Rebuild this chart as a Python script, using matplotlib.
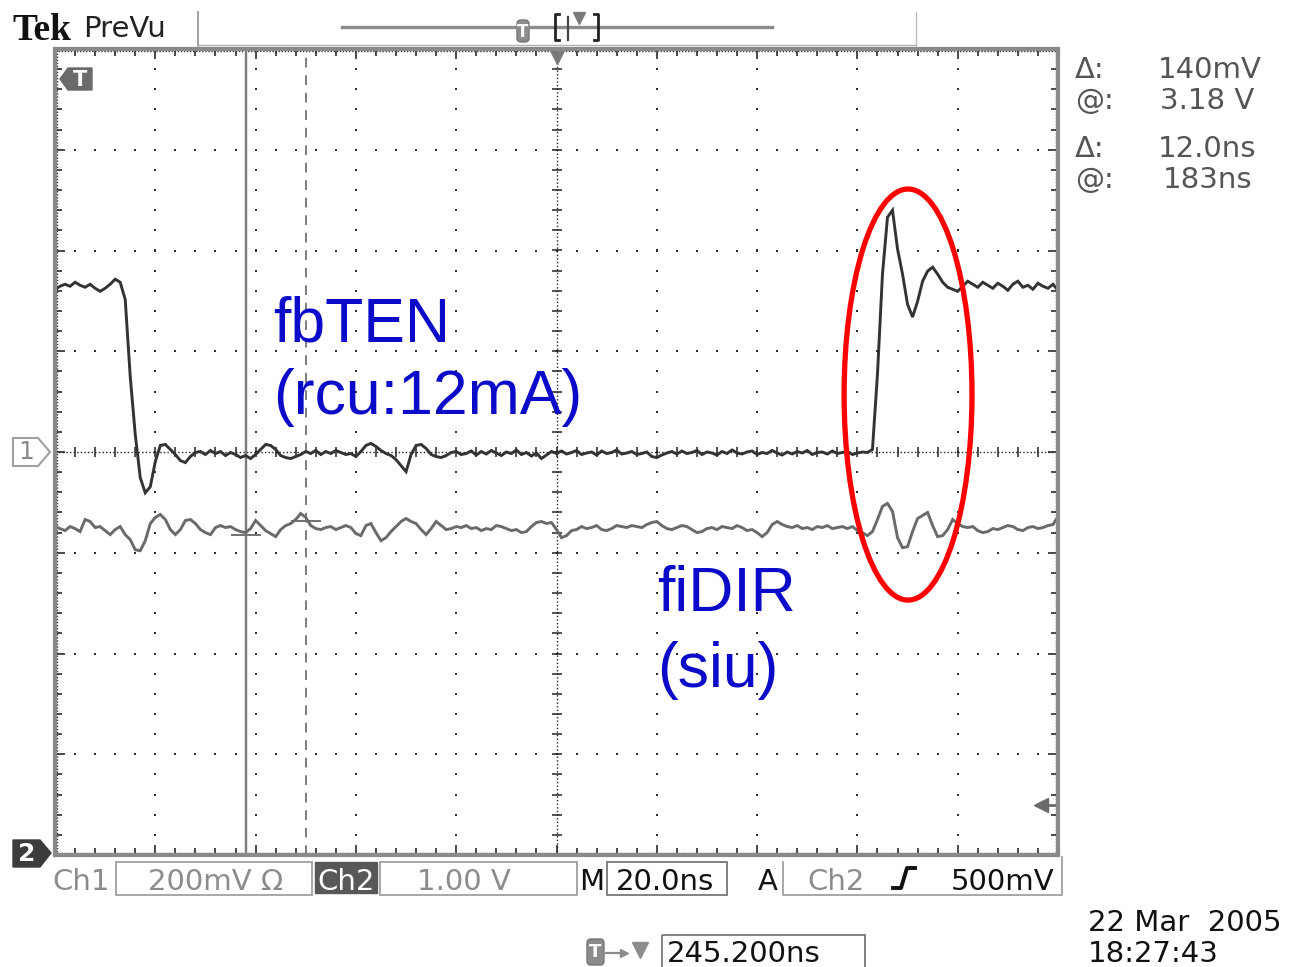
import numpy as np
import matplotlib
matplotlib.use("Agg")
import matplotlib.pyplot as plt
from matplotlib.patches import Ellipse, Polygon, Rectangle, FancyBboxPatch

plt.rcParams['font.family'] = ['DejaVu Sans']

W, H = 1296, 967

# Screen time base: 20 ns/div over 10 divisions, one sample per ns
time_ns = np.arange(0, 201)

# Channel 1 (fbTEN), mV
ch1_mv = [
    323, 329, 333, 329, 337, 331, 327, 333, 325, 319,
    325, 333, 343, 337, 303, 150, 35, -51, -81, -69,
    -19, 13, 15, 5, -5, -17, -21, -9, -1, 1,
    -5, 3, -3, 1, -7, -1, -5, -11, -7, -13,
    -5, 5, 15, 13, 5, -7, -11, -13, -9, -5,
    1, -3, 3, -5, 1, -3, 3, -1, -5, -3,
    -9, 1, 13, 17, 11, 3, -3, -7, -15, -27,
    -39, -5, 13, 15, 7, -5, -9, -11, -7, -1,
    1, -5, -3, 2, -6, 1, -4, 3, -2, -7,
    0, -3, 4, -5, -1, -8, -2, -13, -6, 1,
    -3, 2, -4, -1, 3, -5, -2, 0, -6, 2,
    -3, -1, 4, -4, -2, 1, -5, -3, 0, -9,
    -11, -6, -2, 1, -4, 2, -3, -1, 3, -5,
    0, -2, -6, 1, -3, 4, -2, -4, 0, 2,
    -5, -1, -3, 3, -2, -6, 0, -4, 1, -2,
    3, -5, -1, 0, -4, 2, -3, -1, 1, -5,
    -2, 0, -1, 5, 154, 353, 466, 480, 403, 353,
    293, 268, 299, 339, 359, 367, 353, 337, 327, 323,
    319, 329, 339, 333, 327, 337, 331, 325, 335, 329,
    321, 333, 339, 327, 331, 323, 335, 329, 325, 333,
    321,
]

# Channel 2 (fiDIR), V
ch2_v = [
    3.26, 3.24, 3.22, 3.26, 3.24, 3.21, 3.33, 3.31, 3.25, 3.26,
    3.22, 3.18, 3.23, 3.26, 3.18, 3.13, 3.03, 3.02, 3.12, 3.29,
    3.35, 3.38, 3.33, 3.23, 3.18, 3.23, 3.32, 3.33, 3.29, 3.23,
    3.20, 3.18, 3.25, 3.27, 3.25, 3.26, 3.23, 3.21, 3.20, 3.24,
    3.32, 3.27, 3.22, 3.19, 3.16, 3.23, 3.27, 3.29, 3.33, 3.39,
    3.35, 3.27, 3.24, 3.23, 3.25, 3.26, 3.23, 3.25, 3.27, 3.25,
    3.19, 3.17, 3.27, 3.29, 3.20, 3.12, 3.15, 3.21, 3.26, 3.31,
    3.34, 3.31, 3.29, 3.23, 3.18, 3.24, 3.31, 3.27, 3.23, 3.24,
    3.26, 3.25, 3.27, 3.24, 3.25, 3.22, 3.24, 3.23, 3.27, 3.26,
    3.24, 3.22, 3.23, 3.20, 3.21, 3.26, 3.30, 3.31, 3.29, 3.30,
    3.23, 3.15, 3.17, 3.22, 3.23, 3.26, 3.24, 3.25, 3.27, 3.23,
    3.22, 3.24, 3.27, 3.26, 3.25, 3.27, 3.26, 3.25, 3.28, 3.30,
    3.31, 3.27, 3.24, 3.23, 3.25, 3.27, 3.26, 3.23, 3.20, 3.21,
    3.24, 3.25, 3.23, 3.26, 3.25, 3.24, 3.27, 3.25, 3.22, 3.23,
    3.20, 3.16, 3.20, 3.28, 3.31, 3.28, 3.26, 3.25, 3.27, 3.24,
    3.25, 3.23, 3.26, 3.25, 3.27, 3.24, 3.25, 3.26, 3.24, 3.26,
    3.22, 3.20, 3.17, 3.21, 3.33, 3.46, 3.49, 3.41, 3.15, 3.05,
    3.06, 3.21, 3.34, 3.37, 3.40, 3.27, 3.16, 3.17, 3.23, 3.33,
    3.29, 3.26, 3.25, 3.26, 3.22, 3.20, 3.21, 3.24, 3.23, 3.25,
    3.27, 3.26, 3.23, 3.22, 3.25, 3.26, 3.24, 3.25, 3.27, 3.28,
    3.36,
]

# Vertical settings
ch1_mv_per_div = 200.0
ch2_v_per_div = 1.0
ch1_ground_div = 0.0
ch2_ground_div = -4.0

# Cursors (time cursors in ns from screen left, voltage cursors on Ch2)
cursor_t = [38.0, 50.0]
cursor_v = [3.18, 3.32]
trigger_level_v = 0.5

# Readouts and labels
readouts = [("Δ:", "140mV"), ("@:", "3.18 V"), ("Δ:", "12.0ns"), ("@:", "183ns")]
date_lines = ["22 Mar  2005", "18:27:43"]

fig = plt.figure(figsize=(W / 100, H / 100), dpi=100)
fig.patch.set_facecolor('white')

# ---------------- graticule + traces ----------------
L, R, T, B = 55, 1058, 49, 855
ax = fig.add_axes([L / W, 1 - B / H, (R - L) / W, (B - T) / H])
ax.set_xlim(0, 200)
ax.set_ylim(-4, 4)
ax.set_facecolor('white')

dot_c = '#2e2e2e'
ys_fine = np.arange(-4, 4.001, 0.2)
xs_fine = np.arange(0, 200.001, 4)
for k in range(1, 10):
    if k == 5:
        continue
    ax.plot(np.full_like(ys_fine, k * 20.0), ys_fine, ls='none', marker='s',
            ms=1.7, mew=0, color=dot_c)
for j in range(-3, 4):
    if j == 0:
        continue
    ax.plot(xs_fine, np.full_like(xs_fine, float(j)), ls='none', marker='s',
            ms=1.7, mew=0, color=dot_c)

# centre crosshair with minor ticks
ax.plot([0, 200], [0, 0], color='#222', lw=1.0, ls=(0, (1, 1.6)))
ax.plot([100, 100], [-4, 4], color='#222', lw=1.0, ls=(0, (1, 1.6)))
ax.plot(xs_fine, np.zeros_like(xs_fine), ls='none', marker='|', ms=7, mew=1.1, color='#222')
ax.plot(np.full_like(ys_fine, 100.0), ys_fine, ls='none', marker='_', ms=7, mew=1.1, color='#222')

# frame
for s in ax.spines.values():
    s.set_color('#8a8a8a')
    s.set_linewidth(3.0)
ax.set_xticks(np.arange(0, 201, 20))
ax.set_xticks(np.arange(0, 201, 4), minor=True)
ax.set_yticks(np.arange(-4, 4.01, 1))
ax.set_yticks(ys_fine, minor=True)
ax.tick_params(which='both', direction='in', top=True, right=True,
               labelbottom=False, labelleft=False, color='#2a2a2a', width=1.2)
ax.tick_params(which='major', length=7)
ax.tick_params(which='minor', length=5)
ax.plot([0.4, 0.4], [-4, 4], color='#333', lw=1.0, ls=(0, (1, 1.2)))
ax.plot([199.6, 199.6], [-4, 4], color='#333', lw=1.0, ls=(0, (1, 1.2)))
ax.plot([0, 200], [3.985, 3.985], color='#333', lw=1.0, ls=(0, (1, 1.2)))
ax.plot([0, 200], [-3.985, -3.985], color='#333', lw=1.0, ls=(0, (1, 1.2)))

# cursors
ax.axvline(cursor_t[0], color='#7c7c7c', lw=1.7)
ax.axvline(cursor_t[1], color='#7c7c7c', lw=1.4, ls=(0, (5, 4)))
for t, v in zip(cursor_t, cursor_v):
    yv = v / ch2_v_per_div + ch2_ground_div
    ax.plot([t - 2.8, t + 2.8], [yv, yv], color='#707070', lw=1.4)

# traces
ch1_div = np.array(ch1_mv) / ch1_mv_per_div + ch1_ground_div
ch2_div = np.array(ch2_v) / ch2_v_per_div + ch2_ground_div
ax.plot(time_ns, ch2_div, color='#6a6a6a', lw=2.1, solid_joinstyle='miter')
ax.plot(time_ns, ch1_div, color='#333333', lw=2.1, solid_joinstyle='miter')

# trigger position and trigger level markers
ax.plot([100], [3.93], marker='v', ms=11, color='#7a7a7a', clip_on=False)
trig_div = trigger_level_v / ch2_v_per_div + ch2_ground_div
ax.plot([197.2, 200], [trig_div, trig_div], color='#6a6a6a', lw=2)
ax.plot([196.7], [trig_div], marker='<', ms=10, color='#6a6a6a')

# highlighted region
ax.add_patch(Ellipse((170.1, 0.57), 25.5, 4.08, fill=False, ec='#ff0000',
                     lw=3.8, clip_on=False, zorder=5))

# ---------------- overlay in screen pixels ----------------
ov = fig.add_axes([0, 0, 1, 1])
ov.set_xlim(0, W)
ov.set_ylim(H, 0)
ov.axis('off')
ov.patch.set_alpha(0)

# top bar
ov.text(12, 40, 'Tek', family='Liberation Serif', weight='bold', fontsize=27,
        va='baseline', ha='left', color='#111')
ov.text(83, 37, 'PreVu', fontsize=21, va='baseline', ha='left', color='#222')
ov.plot([198, 198], [12, 46], color='#9a9a9a', lw=1.3)
ov.plot([916, 916], [12, 46], color='#bdbdbd', lw=1.0)
ov.plot([198, 916], [45, 45], color='#b0b0b0', lw=1.0)
ov.plot([342, 772], [27, 27], color='#8a8a8a', lw=2.4)
ov.add_patch(FancyBboxPatch((517, 20), 12, 22, boxstyle='round,pad=0,rounding_size=4',
                            fc='#8c8c8c', ec='#777', lw=1))
ov.text(523, 32, 'T', color='white', fontsize=12, weight='bold', ha='center', va='center')
ov.plot([559, 555, 555, 559], [14, 14, 40, 40], color='#222', lw=2)
ov.plot([594, 598, 598, 594], [14, 14, 40, 40], color='#222', lw=2)
ov.plot([568, 568], [17, 40], color='#444', lw=1.6)
ov.plot([579], [18], marker='v', ms=8, color='#7a7a7a')

# left channel markers
ov.add_patch(Polygon([(13, 438), (38, 438), (50, 452), (38, 466), (13, 466)],
                     closed=True, fill=False, ec='#a0a0a0', lw=1.5))
ov.text(26, 452, '1', color='#8a8a8a', fontsize=18, ha='center', va='center')
ov.add_patch(Polygon([(13, 840), (40, 840), (51, 853), (40, 867), (13, 867)],
                     closed=True, fc='#3c3c3c', ec='#3c3c3c'))
ov.text(27, 854, '2', color='white', fontsize=18, weight='bold', ha='center', va='center')

# trigger tag in the upper-left of the screen
ov.add_patch(Polygon([(60, 79), (68, 68), (92, 68), (92, 90), (68, 90)],
                     closed=True, fc='#6a6a6a', ec='#6a6a6a'))
ov.text(80, 80, 'T', color='white', fontsize=15, weight='bold', ha='center', va='center')

# channel annotations
blue = '#0a0ac8'
ov.text(273, 342, 'fbTEN', family='Liberation Sans', fontsize=45, color=blue, va='baseline')
ov.text(273, 414, '(rcu:12mA)', family='Liberation Sans', fontsize=45, color=blue, va='baseline')
ov.text(657, 611, 'fiDIR', family='Liberation Sans', fontsize=45, color=blue, va='baseline')
ov.text(657, 687, '(siu)', family='Liberation Sans', fontsize=45, color=blue, va='baseline')

# cursor readouts
ro_y = [78, 109, 157, 188]
ro_x = [1158, 1160, 1158, 1163]
for (lab, val), y, x in zip(readouts, ro_y, ro_x):
    ov.text(1075, y, lab, fontsize=21, color='#555', va='baseline')
    ov.text(x, y, val, fontsize=21, color='#555', va='baseline')

# bottom status line
gray_t = '#8c8c8c'
fs = 21
ov.text(52, 890, 'Ch1', fontsize=fs, color=gray_t, va='baseline')
ov.add_patch(Rectangle((116, 862), 196, 33, fill=False, ec='#a0a0a0', lw=1.3))
ov.text(148, 890, '200mV Ω', fontsize=fs, color=gray_t, va='baseline')
ov.add_patch(Rectangle((315, 862), 62, 31, fc='#585858', ec='#585858'))
ov.text(317, 890, 'Ch2', fontsize=fs, color='white', va='baseline')
ov.add_patch(Rectangle((380, 862), 197, 33, fill=False, ec='#a0a0a0', lw=1.3))
ov.text(417, 890, '1.00 V', fontsize=fs, color=gray_t, va='baseline')
ov.text(579, 890, 'M', fontsize=fs, color='#111', va='baseline')
ov.add_patch(Rectangle((607, 862), 120, 33, fill=False, ec='#777', lw=1.3))
ov.text(616, 890, '20.0ns', fontsize=fs, color='#111', va='baseline')
ov.text(758, 890, 'A', fontsize=fs, color='#111', va='baseline')
ov.plot([783, 783, 1062, 1062], [862, 895, 895, 857], color='#a0a0a0', lw=1.3)
ov.text(807, 890, 'Ch2', fontsize=fs, color=gray_t, va='baseline')
ov.plot([893, 901, 907, 915], [888, 888, 868, 868], color='#111', lw=2.8)
ov.text(951, 890, '500mV', fontsize=fs, color='#111', va='baseline')

# horizontal position line
ov.add_patch(FancyBboxPatch((587, 939), 17, 26, boxstyle='round,pad=0,rounding_size=4',
                            fc='#8c8c8c', ec='#777', lw=1))
ov.text(595.5, 952, 'T', color='white', fontsize=13, weight='bold', ha='center', va='center')
ov.plot([606, 624], [953, 953], color='#8c8c8c', lw=1.6)
ov.plot([624], [953], marker='>', ms=6, color='#8c8c8c')
ov.plot([640], [950], marker='v', ms=11, color='#8c8c8c')
ov.add_patch(Rectangle((662, 935), 203, 45, fill=False, ec='#777', lw=1.3, clip_on=False))
ov.text(667, 962, '245.200ns', fontsize=fs, color='#111', va='baseline')

ov.text(1088, 931, date_lines[0], fontsize=fs, color='#111', va='baseline')
ov.text(1088, 962, date_lines[1], fontsize=fs, color='#111', va='baseline')

fig.savefig('out.png', dpi=100, facecolor=fig.get_facecolor())
